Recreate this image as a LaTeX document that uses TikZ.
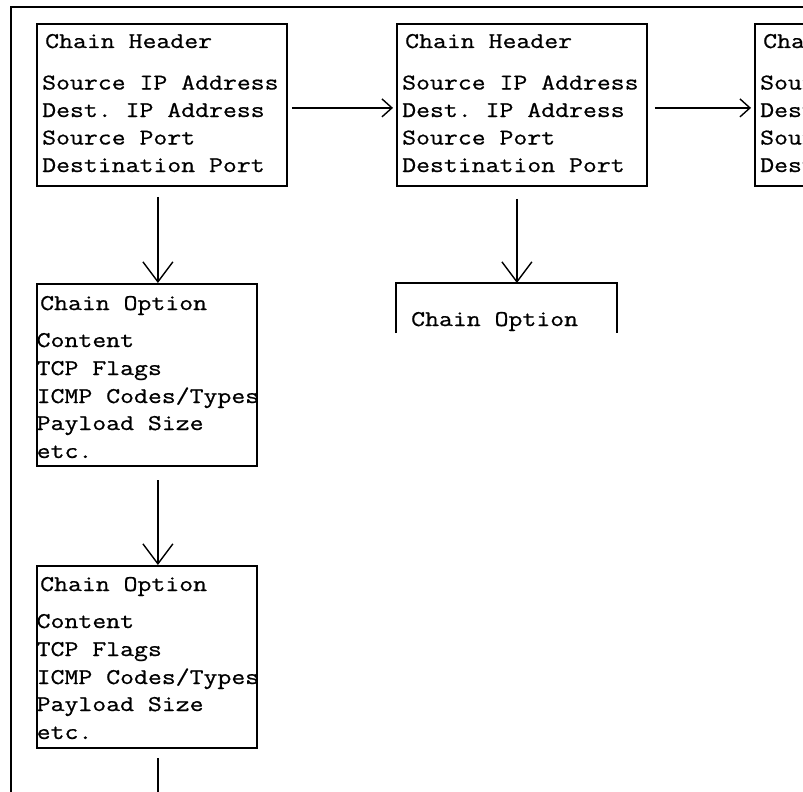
\documentclass[tikz,border=0pt]{standalone}
\usepackage{fontspec}
\setmonofont[FakeStretch=1.2,FakeBold=0.8]{Latin Modern Mono}
\usetikzlibrary{arrows.meta}
\begin{document}
\begin{tikzpicture}[x=1pt,y=-1pt,
  rec/.style={draw, line width=1.8pt, inner sep=0pt, anchor=north west},
  hdr/.style={rec, minimum width=250pt, minimum height=162pt},
  opt/.style={rec, minimum width=220pt, minimum height=182pt},
  txt/.style={inner sep=0pt, anchor=base west, font=\ttfamily\fontsize{22.5}{27.5}\selectfont},
  link/.style={line width=1.4pt, -{Straight Barb[length=10pt,width=18pt,line width=1.4pt]}},
  down/.style={line width=1.4pt, -{Straight Barb[length=20pt,width=30pt,line width=1.4pt]}}]
\useasboundingbox (0,0) rectangle (803,792);
\clip (0,0) rectangle (803,792);
\fill[white] (0,0) rectangle (803,792);

% outer frame: top and left edges
\draw[line width=2.4pt] (11,792) -- (11,7) -- (803,7);

% chain headers
\node[hdr] (h1) at (36,23) {};
\node[hdr] (h2) at (396,23) {};
\node[hdr] (h3) at (754,23) {};

\foreach \n/\x in {h1/0, h2/360, h3/718} {
  \node[txt] (\n t) at (45+\x,48) {Chain Header};
  \node[txt] (\n a) at (42+\x,89.5) {Source IP Address};
  \node[txt] (\n b) at (42+\x,117) {Dest. IP Address};
  \node[txt] (\n c) at (42+\x,144.5) {Source Port};
  \node[txt] (\n d) at (42+\x,172) {Destination Port};
}

% chain options
\node[opt] (o1) at (36,283) {};
\node[opt] (o3) at (36,565) {};
\foreach \n/\y in {o1/0, o3/281} {
  \node[txt] (\n t) at (40,310+\y) {Chain Option};
  \node[txt] (\n a) at (36.5,347+\y) {Content};
  \node[txt] (\n b) at (36.5,375+\y) {TCP Flags};
  \node[txt] (\n c) at (36.5,403+\y) {ICMP Codes/Types};
  \node[txt] (\n d) at (36.5,430+\y) {Payload Size};
  \node[txt] (\n e) at (36.5,458+\y) {etc.};
}

% option box under the second header, open at the bottom
\coordinate (o2l) at (396,333);
\coordinate (o2r) at (617,333);
\coordinate (o2) at (516,283);
\draw[line width=1.8pt] (o2l) -- (o2l |- o2) -- (o2r |- o2) -- (o2r);
\node[txt] (o2t) at (411,326) {Chain Option};

% header to header links
\draw[link] ([shift={(4,3)}]h1.east) -- ([shift={(-3,3)}]h2.west);
\draw[link] ([shift={(7,3)}]h2.east) -- ([shift={(-3,3)}]h3.west);

% header to option links
\coordinate (d1) at ([shift={(-4,10)}]h1.south);
\draw[down] (d1) -- (d1 |- o1.north);
\coordinate (d2) at ([shift={(-5,12)}]h2.south);
\draw[down] (d2) -- (d2 |- o2);
\coordinate (d3) at (d1 |- 0,480);
\draw[down] (d3) -- (d3 |- o3.north);
\coordinate (d4) at (d1 |- 0,758);
\coordinate (d5) at (d1 |- 0,800);
\draw[line width=1.4pt] (d4) -- (d5);
\end{tikzpicture}
\end{document}
